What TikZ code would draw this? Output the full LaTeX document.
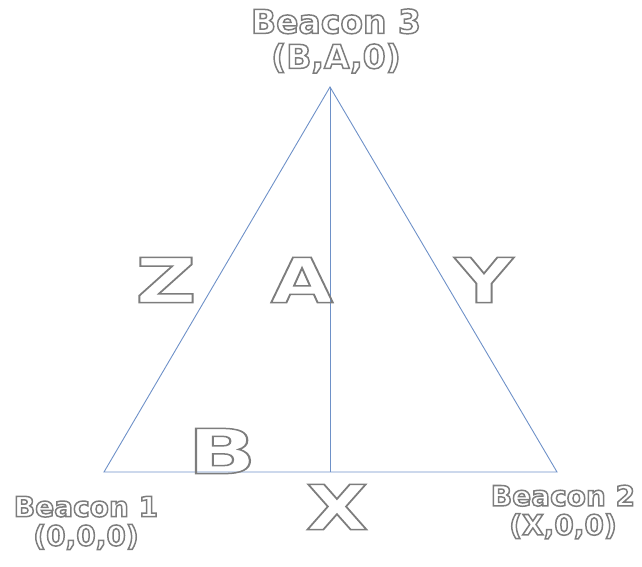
\documentclass[tikz,border=0pt]{standalone}
\usepackage{fontspec}
\setmainfont{DejaVu Sans}
\usepackage{xcolor}
\usepackage{graphicx}
\usetikzlibrary{positioning}
\definecolor{trait}{RGB}{110,145,200}
\definecolor{contour}{RGB}{125,125,125}
\newcommand{\creux}[1]{\special{pdf:literal direct 1 Tr 1.5 w}#1\special{pdf:literal direct 0 Tr}}
\newcommand{\grande}[2][1.3]{\scalebox{#1}[1]{\creux{#2}}}

\begin{document}
\begin{tikzpicture}[x=1pt, y=-1pt,
  balise/.style 2 args={align=center, inner sep=0pt, text=contour,
                 font=\fontsize{#1}{#2}\selectfont\bfseries},
  lettre/.style={inner sep=0pt, text=contour, font=\fontsize{62}{70}\selectfont\bfseries}]

\useasboundingbox (0,0) rectangle (642,567);

% sommets
\coordinate (b1) at (104,472);
\coordinate (b2) at (557,472);
\coordinate (b3) at (330,87);
\coordinate (pied) at (330,472);

\draw[trait, line width=0.9pt] (b1) -- (b2) -- (b3) -- cycle;
\draw[trait, line width=0.9pt] (b3) -- (pied);

% balises
\node[balise={33}{35}] (t3) at (336,41) {\creux{Beacon 3}\\ \creux{(B,A,0)}};
\node[balise={28}{29}] (t1) at (86,523) {\creux{Beacon 1}\\ \creux{(0,0,0)}};
\node[balise={28}{29}] (t2) at (563,512) {\creux{Beacon 2}\\ \creux{(X,0,0)}};

% distances
\node[lettre] (dz) at (166,280) {\grande[1.35]{Z}};
\node[lettre] (da) at (302,280) {\grande{A}};
\node[lettre] (dy) at (484,280) {\grande{Y}};
\node[lettre] (db) at (222,451) {\grande[1.45]{B}};
\node[lettre] (dx) at (337,507) {\grande{X}};

\end{tikzpicture}
\end{document}
